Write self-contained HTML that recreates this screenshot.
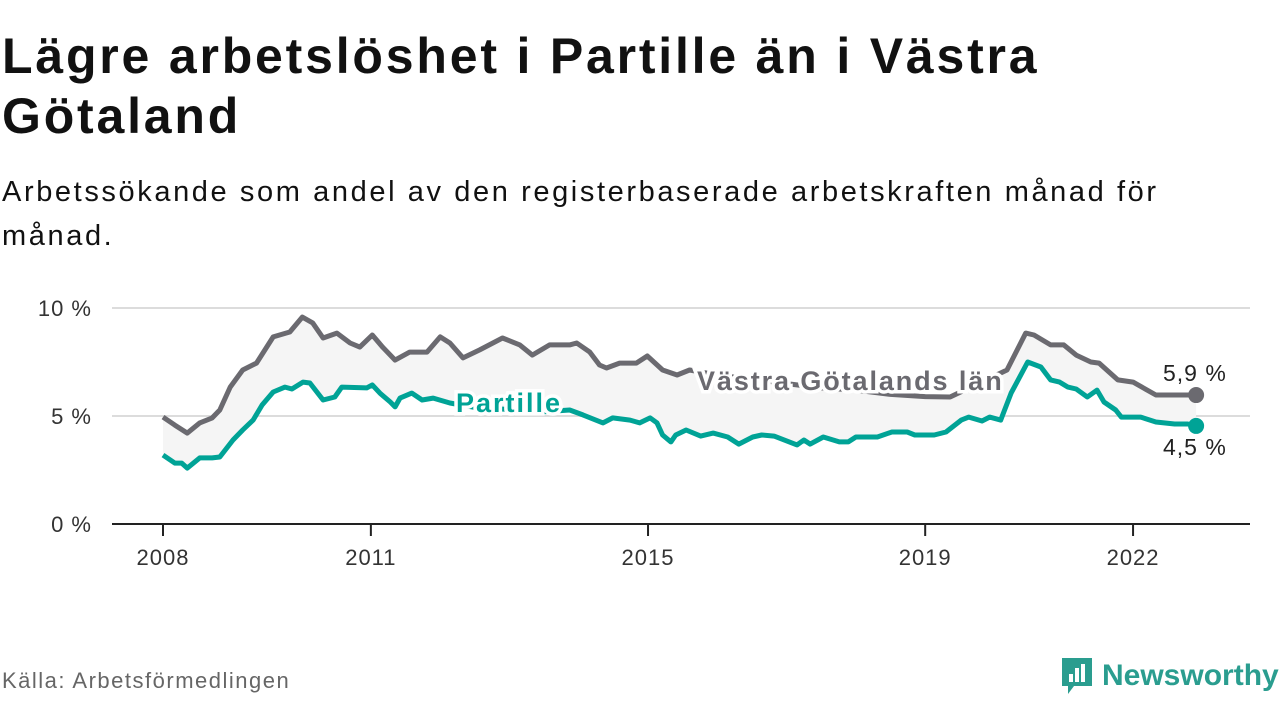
<!DOCTYPE html>
<html><head><meta charset="utf-8"><style>
body{margin:0;width:1280px;height:720px;background:#fff;font-family:"Liberation Sans","DejaVu Sans",sans-serif;overflow:hidden;position:relative}
h1{position:absolute;left:2px;top:26px;margin:0;font-size:50px;line-height:60px;font-weight:bold;color:#111;letter-spacing:2.8px}
.sub{position:absolute;left:2px;top:170px;font-size:29px;line-height:44px;color:#111;letter-spacing:2.6px}
.src{position:absolute;left:2px;top:668px;font-size:22px;color:#666;letter-spacing:1.5px}
.logo{position:absolute;left:1060px;top:656px;display:flex;align-items:center}
.logo span{font-size:30px;font-weight:bold;color:#2a9d8f;margin-left:8px}
svg{position:absolute;left:0;top:0}
</style></head><body>
<h1>Lägre arbetslöshet i Partille än i Västra<br>Götaland</h1>
<div class="sub">Arbetssökande som andel av den registerbaserade arbetskraften månad för<br>månad.</div>
<svg id="chart" width="1280" height="720"></svg>
<div class="src">Källa: Arbetsförmedlingen</div>
<div class="logo">
<svg width="34" height="40" style="position:static"><path d="M2 2h30v28h-18l-6 8v-8h-6z" fill="#2a9d8f"/><rect x="9" y="18" width="4" height="8" fill="#fff"/><rect x="15" y="12" width="4" height="14" fill="#fff"/><rect x="21" y="8" width="4" height="18" fill="#fff"/></svg>
<span>Newsworthy</span></div>
<script>
const grayT=[2008.0,2008.17,2008.35,2008.53,2008.71,2008.82,2008.97,2009.15,2009.35,2009.59,2009.83,2010.01,2010.16,2010.31,2010.51,2010.7,2010.84,2011.02,2011.17,2011.35,2011.56,2011.81,2012.0,2012.14,2012.33,2012.57,2012.9,2013.15,2013.33,2013.58,2013.87,2013.97,2014.16,2014.3,2014.4,2014.59,2014.83,2014.99,2015.21,2015.42,2015.6,2016.0,2016.5,2017.0,2017.5,2018.0,2018.5,2019.0,2019.36,2020.18,2020.45,2020.57,2020.81,2021.0,2021.18,2021.39,2021.51,2021.78,2022.0,2022.33,2022.91];
const grayV=[4.95,4.58,4.21,4.68,4.91,5.28,6.34,7.13,7.45,8.66,8.89,9.58,9.31,8.61,8.84,8.38,8.19,8.75,8.19,7.59,7.96,7.96,8.66,8.38,7.69,8.06,8.61,8.29,7.82,8.29,8.29,8.38,7.96,7.36,7.22,7.45,7.45,7.78,7.13,6.9,7.13,6.9,6.7,6.5,6.3,6.2,6.0,5.9,5.88,7.13,8.84,8.75,8.29,8.29,7.82,7.5,7.45,6.67,6.57,5.97,5.97];
const tealT=[2008.0,2008.17,2008.27,2008.35,2008.53,2008.71,2008.82,2009.01,2009.15,2009.3,2009.43,2009.59,2009.76,2009.86,2010.02,2010.12,2010.31,2010.48,2010.58,2010.94,2011.02,2011.13,2011.28,2011.35,2011.42,2011.59,2011.74,2011.9,2012.14,2012.5,2013.0,2013.5,2013.87,2014.06,2014.35,2014.49,2014.74,2014.88,2015.03,2015.13,2015.21,2015.33,2015.4,2015.55,2015.76,2015.94,2016.15,2016.31,2016.51,2016.64,2016.82,2017.15,2017.25,2017.34,2017.53,2017.76,2017.89,2018.0,2018.31,2018.52,2018.74,2018.85,2019.13,2019.3,2019.52,2019.63,2019.82,2019.93,2020.09,2020.24,2020.48,2020.67,2020.81,2020.94,2021.06,2021.18,2021.34,2021.48,2021.58,2021.75,2021.83,2022.11,2022.33,2022.6,2022.79,2022.91];
const tealV=[3.19,2.82,2.82,2.59,3.06,3.06,3.1,3.89,4.35,4.81,5.51,6.11,6.34,6.25,6.57,6.53,5.74,5.88,6.34,6.3,6.44,6.06,5.65,5.42,5.83,6.06,5.74,5.83,5.6,5.4,5.3,5.2,5.28,5.05,4.68,4.91,4.81,4.68,4.91,4.68,4.12,3.8,4.12,4.35,4.07,4.21,4.03,3.7,4.03,4.12,4.07,3.66,3.89,3.7,4.03,3.8,3.8,4.03,4.03,4.26,4.26,4.12,4.12,4.26,4.81,4.95,4.77,4.95,4.81,6.06,7.5,7.27,6.67,6.57,6.34,6.25,5.88,6.2,5.65,5.28,4.95,4.95,4.72,4.63,4.63,4.54];
const yTicks=[0,5,10];
const yTickLabels=["0 %","5 %","10 %"];
const xTicks=[2008,2011,2015,2019,2022];
const endLabels=["5,9 %","4,5 %"];
const NS="http://www.w3.org/2000/svg";
const svg=document.getElementById('chart');
const X=t=>163+(t-2008)*69.29;
const Y=v=>524-v*21.6;
function mk(tag,attrs,parent){const e=document.createElementNS(NS,tag);for(const k in attrs)e.setAttribute(k,attrs[k]);(parent||svg).appendChild(e);return e;}
yTicks.forEach((v,i)=>{
 if(v>0){const g=mk('line',{x1:112,x2:1250,y1:Y(v),y2:Y(v),stroke:'#dcdcdc','stroke-width':2});
 
 }
 const t=mk('text',{x:92,y:Y(v)+8,'text-anchor':'end','font-size':22,fill:'#333','letter-spacing':1});t.textContent=yTickLabels[i];
 
 
});
const ax=mk('line',{x1:112,x2:1250,y1:524,y2:524,stroke:'#222','stroke-width':2});


xTicks.forEach(yr=>{
 const tk=mk('line',{x1:X(yr),x2:X(yr),y1:524,y2:536,stroke:'#222','stroke-width':2});
 
 
 const t=mk('text',{x:X(yr),y:565,'text-anchor':'middle','font-size':22,fill:'#333','letter-spacing':1});t.textContent=yr;
 
 
});
const gp=grayT.map((t,i)=>X(t).toFixed(1)+','+Y(grayV[i]).toFixed(1));
const tp=tealT.map((t,i)=>X(t).toFixed(1)+','+Y(tealV[i]).toFixed(1));
const band=mk('path',{d:'M'+gp.join('L')+'L'+tp.slice().reverse().join('L')+'Z',fill:'#f5f5f5'});


const gl=mk('path',{d:'M'+gp.join('L'),fill:'none',stroke:'#6b6a70','stroke-width':5,'stroke-linejoin':'round'});


const tl=mk('path',{d:'M'+tp.join('L'),fill:'none',stroke:'#00a396','stroke-width':5,'stroke-linejoin':'round'});


const gd=mk('circle',{cx:X(grayT[grayT.length-1]),cy:Y(grayV[grayV.length-1]),r:8,fill:'#6b6a70'});


const td=mk('circle',{cx:X(tealT[tealT.length-1]),cy:Y(tealV[tealV.length-1]),r:8,fill:'#00a396'});


const l1=mk('text',{x:697,y:390,'font-size':27,'font-weight':'bold',fill:'#6b6a70',stroke:'#fff','stroke-width':7,'paint-order':'stroke','letter-spacing':1.9});l1.textContent='Västra Götalands län';


const l2=mk('text',{x:456,y:412,'font-size':27,'font-weight':'bold',fill:'#00a396',stroke:'#fff','stroke-width':7,'paint-order':'stroke','letter-spacing':2});l2.textContent='Partille';


const e1=mk('text',{x:1163,y:381,'font-size':23,fill:'#222','letter-spacing':1});e1.textContent=endLabels[0];


const e2=mk('text',{x:1163,y:455,'font-size':23,fill:'#222','letter-spacing':1});e2.textContent=endLabels[1];


</script>
</body></html>
